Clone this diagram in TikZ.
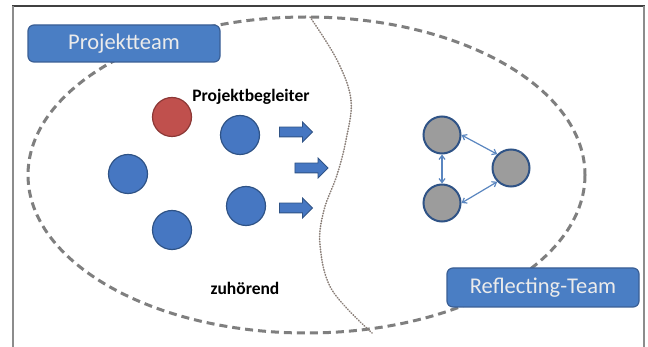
\documentclass[tikz,border=0pt]{standalone}
\usepackage{fontspec}
\setmainfont{Carlito}
\usetikzlibrary{shapes.arrows,arrows.meta}
\definecolor{obfill}{HTML}{4677C2}
\definecolor{obdraw}{HTML}{2F5386}
\definecolor{boxfill}{HTML}{4A7EC4}
\definecolor{boxdraw}{HTML}{3A5F95}
\definecolor{redfill}{HTML}{C0504D}
\definecolor{reddraw}{HTML}{8C3836}
\definecolor{grayfill}{HTML}{9C9C9C}
\definecolor{graydraw}{HTML}{2F5386}
\definecolor{dashcol}{HTML}{7F7F7F}
\definecolor{dotcol}{HTML}{8A7F78}
\definecolor{thinarrow}{HTML}{5A86C0}
\tikzset{
  teambox/.style={draw=boxdraw, fill=boxfill, line width=1.2pt, rounded corners=6pt,
    minimum width=192pt, text=white!92!black, font=\fontsize{22.5}{26}\selectfont, inner sep=0pt},
  person/.style={circle, draw=obdraw, fill=obfill, line width=1.2pt, minimum size=39pt, inner sep=0pt},
  leader/.style={person, draw=reddraw, fill=redfill},
  reflector/.style={circle, draw=graydraw, fill=grayfill, line width=2pt, minimum size=37pt, inner sep=0pt},
  blockarrow/.style={single arrow, draw=obdraw, fill=obfill, line width=0.8pt,
    minimum height=33pt, inner xsep=0pt, inner ysep=4.5pt, single arrow head extend=5pt},
  label/.style={font=\bfseries\fontsize{17.5}{20}\selectfont, text=black},
  twoway/.style={draw=thinarrow, line width=1.2pt, {Straight Barb[length=4pt,width=6pt]}-{Straight Barb[length=4pt,width=6pt]}}
}
\begin{document}
\begin{tikzpicture}[x=1pt,y=-1pt]
\useasboundingbox (0,0) rectangle (648,347);
\fill[white] (0,0) rectangle (648,347);
% frame
\draw[line width=1.5pt, black!75] (12,6) -- (645,6);
\draw[line width=2pt, black!45] (13,6) -- (13,347);
\draw[line width=2pt, black!45] (644,6) -- (644,347);
% big dashed ellipse
\draw[dashcol, line width=3pt, dash pattern=on 8pt off 5pt] (306.5,175) ellipse [x radius=278.5, y radius=158];
% dotted separator
\draw[dotcol, line width=1.6pt, dash pattern=on 0.6pt off 2pt, line cap=round] plot[smooth, tension=0.6] coordinates
  {(310,17) (337,60) (351,100) (346,140) (337,175) (324,210) (320,245) (332,290) (372,333)};
% boxes
\node[teambox, minimum height=37pt] (pt) at (124,43.5) {Projektteam};
\node[teambox, minimum height=39pt] (rt) at (543,287.5) {Reflecting-Team};
% project team members
\node[leader] (red) at (172,117) {};
\node[person] (b1) at (240,135) {};
\node[person] (b2) at (128,174) {};
\node[person] (b3) at (172,230) {};
\node[person] (b4) at (246,206) {};
% block arrows
\node[blockarrow] (a1) at (293.5,132) {};
\node[blockarrow] (a2) at (309,168) {};
\node[blockarrow] (a3) at (293.5,208) {};
% texts
\node[label] (pb) at (251,97) {Projektbegleiter};
\node[label] (zh) at (245,288) {zuhörend};
% reflecting team
\node[reflector] (g1) at (442,135) {};
\node[reflector] (g2) at (511,168) {};
\node[reflector] (g3) at (442,203) {};
\draw[twoway] (g1.east) -- (g2.north west);
\draw[twoway] (g1.south) -- (g3.north);
\draw[twoway] (g3.east) -- (g2.south west);
\end{tikzpicture}
\end{document}
